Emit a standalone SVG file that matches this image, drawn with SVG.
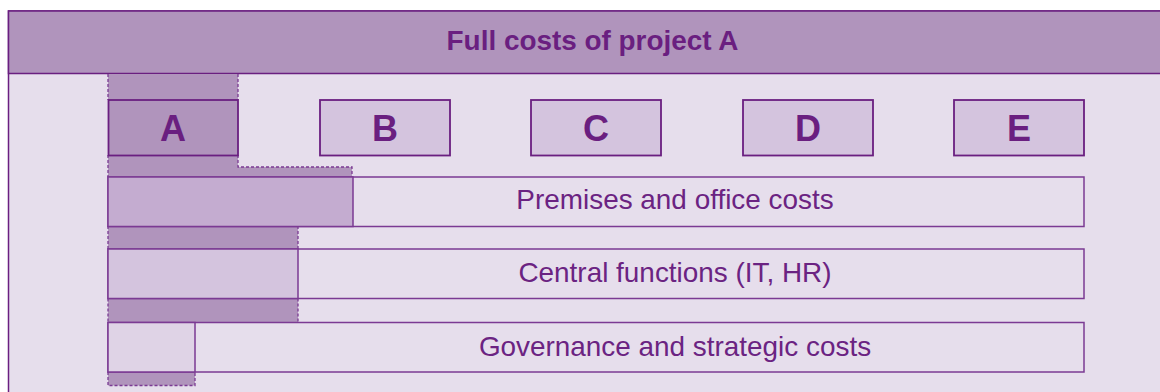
<svg xmlns="http://www.w3.org/2000/svg" width="1160" height="392" viewBox="0 0 1160 392">
<style>
.hdr{fill:#b094bc}
.dash{fill:none;stroke:#7b3a93;stroke-width:1.3;stroke-dasharray:3 2}
.key{fill:#d4c4de;stroke:#6a1f80;stroke-width:1.8}
.row{fill:#e6deec;stroke:#7b3a93;stroke-width:1.5}
.part{stroke:#7b3a93;stroke-width:1.5}
.lt{font-family:"Liberation Sans",Arial,sans-serif;font-weight:bold;font-size:36px;fill:#6a1f80;text-anchor:middle}
.rt{font-family:"Liberation Sans",Arial,sans-serif;font-size:27.9px;fill:#6b2382;text-anchor:middle}
.ht{font-family:"Liberation Sans",Arial,sans-serif;font-weight:bold;font-size:27.9px;fill:#6a1f80;text-anchor:middle}
</style>
<rect x="0" y="0" width="1160" height="392" fill="#ffffff"/>
<rect x="8.5" y="11" width="1160" height="390" fill="#e6deec" stroke="#6a1f80" stroke-width="1.5"/>
<g id="header">
<rect x="8.5" y="11" width="1160" height="62.5" class="hdr" stroke="#6a1f80" stroke-width="1.5"/>
<text x="592.5" y="50" class="ht">Full costs of project A</text>
</g>
<g id="shading">
<path d="M108,74 H238 V167 H352 V177 H108 Z" class="hdr"/>
<path d="M108,74 V100 M238,74 V100 M108,155 V177 M238,155 V167 H352 V177" class="dash"/>
<rect x="108" y="226" width="190" height="23" class="hdr"/>
<path d="M108,226 V249 M298,226 V249" class="dash"/>
<rect x="108" y="298.5" width="190" height="24" class="hdr"/>
<path d="M108,298.5 V322.5 M298,298.5 V322.5" class="dash"/>
<rect x="108" y="372" width="87" height="13.5" class="hdr"/>
<path d="M108,372 V385.5 H195 V372" class="dash"/>
</g>
<g id="nodeA">
<rect x="108.5" y="100" width="129.5" height="55.5" class="key" style="fill:#b094bc"/>
<text x="173" y="140.5" class="lt">A</text>
</g>
<g id="nodeB">
<rect x="320" y="100" width="130" height="55.5" class="key"/>
<text x="385" y="140.5" class="lt">B</text>
</g>
<g id="nodeC">
<rect x="531" y="100" width="130" height="55.5" class="key"/>
<text x="596" y="140.5" class="lt">C</text>
</g>
<g id="nodeD">
<rect x="743" y="100" width="130" height="55.5" class="key"/>
<text x="808" y="140.5" class="lt">D</text>
</g>
<g id="nodeE">
<rect x="954" y="100" width="130" height="55.5" class="key"/>
<text x="1019" y="140.5" class="lt">E</text>
</g>
<g id="premises">
<rect x="108" y="177" width="976" height="49.5" class="row"/>
<rect x="108" y="177" width="245" height="49.5" fill="#c4acd0" class="part"/>
<text x="675" y="209" class="rt">Premises and office costs</text>
</g>
<g id="central">
<rect x="108" y="249" width="976" height="49.5" class="row"/>
<rect x="108" y="249" width="190" height="49.5" fill="#d4c4de" class="part"/>
<text x="675" y="281.5" class="rt">Central functions (IT, HR)</text>
</g>
<g id="governance">
<rect x="108" y="322.5" width="976" height="49.5" class="row"/>
<rect x="108" y="322.5" width="87" height="49.5" fill="#dfd3e6" class="part"/>
<text x="675" y="355.5" class="rt">Governance and strategic costs</text>
</g>
</svg>
